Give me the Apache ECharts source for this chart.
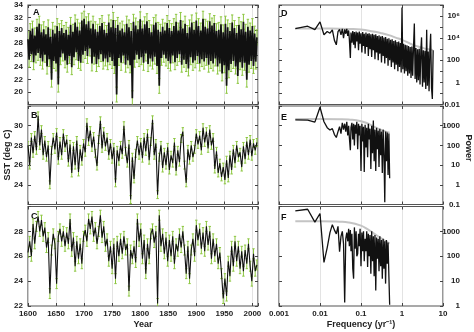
<!DOCTYPE html>
<html><head><meta charset="utf-8">
<script src="https://cdn.jsdelivr.net/npm/echarts/dist/echarts.min.js"></script>
<style>html,body{margin:0;padding:0;background:#fff}#c{width:474px;height:332px}</style>
</head><body><div id="c"></div>
<script>
// ---------- DATA ----------
// Panel A: SST, 2-yr step from 1600
const aStart = 1600, aStep = 2;
const aSST = [
28.5,25.2,29.8,26.1,30.2,24.8,29.1,25.9,30.5,26.3,
31.0,25.5,29.6,24.9,30.1,26.0,29.3,24.1,30.4,25.3,
28.9,22.0,30.0,25.0,29.4,24.6,30.6,21.2,29.8,25.6,
30.3,26.2,29.5,25.1,30.0,24.4,29.2,25.8,30.8,24.0,
29.7,25.6,31.2,26.4,30.5,25.0,29.9,24.7,31.5,26.0,
31.8,26.6,30.9,25.8,31.4,27.0,30.2,24.6,31.0,25.7,
30.1,24.5,29.7,25.3,30.6,26.1,31.1,24.9,30.0,25.4,
29.5,24.8,31.2,25.6,30.4,25.0,31.6,24.2,30.3,19.6,
30.8,25.5,29.9,24.7,30.2,25.9,29.6,24.4,31.0,25.1,
30.4,24.3,29.8,19.0,31.3,25.2,30.7,26.0,30.1,25.3,
31.7,25.6,30.2,24.7,30.9,26.2,31.4,24.5,30.3,25.4,
29.6,24.9,30.8,25.7,31.2,24.2,30.0,21.0,29.7,25.5,
30.5,26.0,29.9,25.4,31.1,25.0,30.3,24.6,29.8,25.9,
30.6,24.8,31.3,25.5,29.9,26.1,31.6,24.4,30.2,25.2,
31.0,24.5,29.5,23.8,30.4,25.6,31.2,24.7,30.0,25.1,
31.5,25.8,30.6,24.6,29.9,25.3,31.8,24.9,30.5,25.5,
30.2,24.4,31.4,25.0,30.7,24.6,31.1,25.4,29.8,24.1,
30.0,24.6,30.9,23.0,29.6,24.3,31.0,21.0,30.4,23.5,
29.8,24.5,31.2,25.0,30.3,24.1,29.5,22.6,30.8,24.8,
30.1,23.9,31.3,24.7,29.7,22.0,30.5,24.4,29.9,25.0,
30.6,24.2,29.4,24.9,28.8];
const aErr = 1.2;

// Panels B and C: SST, 3-yr step from 1600
const bcStart = 1600, bcStep = 3;
const bSST = [
28.0,26.0,28.8,27.2,29.0,27.5,31.0,28.0,29.6,27.0,
28.5,26.8,28.0,24.0,27.5,28.8,27.6,29.3,26.5,28.4,
27.0,29.2,27.8,28.6,26.3,28.1,25.2,27.9,26.0,28.5,
25.3,27.6,26.4,28.2,27.3,30.3,28.4,29.5,27.8,28.9,
27.2,25.9,28.6,30.5,27.7,29.4,27.9,28.8,27.0,28.2,
26.6,27.8,24.2,27.5,26.4,28.0,27.1,30.0,27.4,26.2,
28.1,22.5,26.8,24.6,27.2,28.5,27.0,28.3,26.7,28.8,
27.4,29.2,26.5,28.4,30.6,27.0,28.2,23.0,26.8,28.0,
25.7,27.3,26.0,27.8,25.5,27.0,26.2,28.3,25.4,27.5,
26.3,28.7,29.4,26.0,24.2,27.6,26.5,28.0,26.8,27.6,
29.2,28.1,29.0,27.5,29.8,28.3,29.4,27.7,29.6,28.0,
28.8,25.6,27.4,25.2,26.2,24.8,25.8,24.5,26.5,24.7,
27.0,25.5,27.6,26.2,28.0,26.8,27.3,25.8,27.9,26.6,
28.4,27.0,28.6,26.9,28.2,27.5,28.3];
const bErr = 0.4;
const cSST = [
26.3,27.2,26.0,28.6,27.0,28.4,29.2,28.0,28.9,27.6,
28.3,26.7,27.5,23.0,26.5,27.8,27.0,23.8,27.6,28.2,
27.2,28.0,26.8,27.9,27.0,29.0,26.4,27.5,25.2,27.2,
25.8,27.0,25.4,27.6,28.1,27.2,29.0,28.2,29.2,27.6,
28.3,27.0,28.0,29.3,27.5,28.4,26.8,27.4,25.6,26.8,
25.0,27.0,24.2,27.2,26.0,27.4,26.2,27.6,26.5,27.0,
23.2,26.5,25.8,26.8,25.5,29.0,27.2,28.2,25.8,27.3,
24.6,27.0,25.8,27.8,28.2,27.1,28.0,22.2,29.3,26.8,
27.8,26.2,27.5,25.6,27.3,26.0,27.6,25.4,27.0,26.4,
27.8,26.7,28.0,26.5,24.6,26.8,24.2,26.5,27.4,26.0,
28.5,27.3,28.2,26.6,27.9,26.4,28.4,26.9,28.0,25.8,
27.4,26.0,27.0,25.4,26.3,24.6,22.6,24.2,22.8,25.6,
24.4,26.8,25.2,27.2,25.6,26.8,25.0,26.4,24.8,26.5,
25.4,27.0,25.2,24.0,26.2,24.8,25.3];
const cErr = 0.4;

// Spectra: [frequency (1/yr), log10 power]
const dSpec = [
[0.0025,4.87],[0.005,5.08],[0.0075,4.77],[0.01,5.47],[0.0125,4.31],[0.015,4.6],[0.0175,4.45],[0.02,4.75],
[0.0225,3.8],[0.025,3.4],[0.0275,4.6],[0.03,4.8],[0.0325,4.3],[0.035,4.85],[0.0375,4.0],[0.04,4.8],
[0.0425,4.4],[0.045,4.85],[0.0475,4.2],
[0.050,4.70],[0.052,3.90],[0.055,2.20],[0.057,4.50],[0.060,3.60],[0.063,4.65],[0.066,3.40],[0.069,4.55],
[0.072,3.10],[0.076,4.60],[0.079,3.70],[0.083,4.50],[0.087,2.90],[0.091,4.60],[0.095,3.50],[0.100,4.45],
[0.105,2.70],[0.110,4.55],[0.115,3.30],[0.120,4.40],[0.126,2.60],[0.132,4.50],[0.138,3.20],[0.145,4.40],
[0.151,2.40],[0.158,4.45],[0.166,3.00],[0.174,4.35],[0.182,2.30],[0.191,4.40],[0.200,2.90],[0.209,4.30],
[0.219,2.10],[0.229,4.35],[0.240,2.70],[0.251,4.20],[0.263,2.00],[0.275,4.25],[0.288,2.60],[0.302,4.15],
[0.316,1.80],[0.331,4.20],[0.347,2.40],[0.363,4.05],[0.380,1.70],[0.398,4.10],[0.417,2.20],[0.437,3.95],
[0.457,1.50],[0.479,4.00],[0.501,2.00],[0.525,3.85],[0.550,1.40],[0.575,3.90],[0.603,1.80],[0.631,3.75],
[0.661,1.20],[0.692,3.80],[0.724,1.60],[0.759,3.65],[0.794,1.00],[0.832,3.70],[0.871,1.40],[0.912,3.55],
[0.955,0.90],[1.000,6.77],[1.047,1.20],[1.096,3.50],[1.148,0.80],[1.202,3.40],[1.259,1.00],[1.318,3.35],
[1.380,0.60],[1.445,3.30],[1.514,0.80],[1.585,3.20],[1.660,0.40],[1.738,3.25],[1.820,0.60],[1.905,3.10],
[2.000,5.33],[2.089,0.30],[2.188,3.10],[2.291,0.00],[2.399,3.00],[2.512,0.20],[2.630,3.05],[2.754,-0.20],
[2.884,2.95],[3.000,4.07],[3.162,-0.40],[3.311,2.90],[3.467,0.00],[3.631,2.85],[3.802,-0.60],[4.000,4.77],
[4.169,-0.30],[4.365,2.80],[4.571,-0.80],[4.786,2.85],[5.000,4.40],[5.248,-0.50],[5.495,-1.50],[5.754,2.90]];
const dRed = [[0.0025,4.87],[0.01,4.87],[0.03,4.86],[0.05,4.84],[0.1,4.78],[0.2,4.6],[0.3,4.47],[0.5,4.25],
[0.7,4.05],[1,3.85],[1.5,3.55],[2,3.35],[3,3.15],[4,3.02],[5.7,2.93]];

const eSpec = [
[0.0025,3.30],[0.005,3.28],[0.0075,3.18],[0.01,3.94],[0.0125,3.20],[0.015,2.90],[0.0175,2.78],[0.02,2.85],
[0.0225,2.55],[0.025,2.40],[0.0275,2.70],[0.03,2.95],[0.0325,2.60],[0.035,3.15],[0.0375,2.80],[0.04,3.10],
[0.0425,2.70],[0.045,3.20],[0.0475,2.50],
[0.050,3.00],[0.052,2.40],[0.055,1.76],[0.057,2.90],[0.060,3.15],[0.063,2.30],[0.066,3.10],[0.069,2.00],
[0.072,3.05],[0.076,2.60],[0.079,3.20],[0.083,1.80],[0.087,3.10],[0.091,2.50],[0.095,3.00],[0.100,0.70],
[0.105,3.10],[0.110,2.20],[0.115,2.95],[0.120,0.65],[0.126,3.05],[0.132,1.90],[0.138,2.90],[0.145,1.40],
[0.151,3.10],[0.158,2.30],[0.166,2.85],[0.174,0.80],[0.182,3.00],[0.191,1.60],[0.200,3.26],[0.209,1.20],
[0.219,2.80],[0.229,0.70],[0.240,2.90],[0.251,1.80],[0.263,2.75],[0.275,0.90],[0.288,2.85],[0.302,1.50],
[0.316,2.70],[0.331,0.60],[0.347,2.80],[0.363,1.60],[0.380,-0.88],[0.398,2.70],[0.417,1.20],[0.437,2.65],
[0.457,0.50],[0.479,2.60],[0.500,0.33]];
const eRed = [[0.0025,3.34],[0.01,3.34],[0.03,3.33],[0.05,3.31],[0.1,3.23],[0.15,3.1],[0.2,2.97],[0.3,2.8],[0.4,2.7],[0.5,2.64]];

const fSpec = [
[0.0025,3.82],[0.005,3.89],[0.0075,3.37],[0.01,3.72],[0.0125,1.75],[0.015,2.35],[0.0175,2.95],[0.02,3.27],
[0.0225,3.05],[0.025,2.90],[0.0275,3.20],[0.03,2.18],[0.0325,2.80],[0.035,3.00],[0.0375,2.50],[0.04,0.14],
[0.0425,2.70],[0.045,2.95],[0.0475,2.60],
[0.050,3.10],[0.052,2.40],[0.055,3.05],[0.057,2.20],[0.060,2.90],[0.063,1.50],[0.066,1.10],[0.069,3.16],
[0.072,2.30],[0.076,3.00],[0.079,2.00],[0.083,2.10],[0.087,2.90],[0.091,2.40],[0.095,3.10],[0.100,1.60],
[0.105,2.95],[0.110,2.20],[0.115,3.00],[0.120,1.80],[0.126,2.70],[0.132,2.20],[0.138,3.00],[0.145,1.57],
[0.151,2.90],[0.158,2.00],[0.166,2.85],[0.174,1.30],[0.182,3.00],[0.191,1.80],[0.200,2.80],[0.209,1.20],
[0.219,2.85],[0.229,0.62],[0.240,2.75],[0.251,1.90],[0.263,2.70],[0.275,1.40],[0.288,2.80],[0.302,1.60],
[0.316,2.65],[0.331,1.10],[0.347,2.70],[0.363,1.50],[0.380,2.60],[0.398,0.90],[0.417,2.65],[0.437,1.70],
[0.457,2.55],[0.479,1.20],[0.500,0.05]];
const fRed = [[0.0025,3.41],[0.01,3.41],[0.03,3.39],[0.05,3.36],[0.1,3.23],[0.15,3.07],[0.2,2.93],[0.3,2.74],[0.4,2.6],[0.5,2.52]];

const panelLetters = ['A','B','C','D','E','F'];
const yearTicks = [1600,1650,1700,1750,1800,1850,1900,1950,2000];

// ---------- STYLE / LAYOUT ----------
const FONT = '"Liberation Sans Narrow","Liberation Sans",Arial,sans-serif';
const GREEN = '#8cc63f';
const INK = '#111';
const TICKC = '#444';
const GRIDC = '#dcdcdc';

const grids = [
  {left:28, top:5,     width:230, height:99.5},
  {left:28, top:106,   width:230, height:98.5},
  {left:28, top:206.5, width:230, height:99.5},
  {left:279,top:5,     width:164, height:99.5},
  {left:279,top:106,   width:164, height:98.5},
  {left:279,top:206.5, width:164, height:99.5}
].map(g => Object.assign(g, {show:true, borderColor:'#555', borderWidth:1.2, containLabel:false}));

const labelFont = {fontSize:8, fontWeight:'bold', fontFamily:FONT, color:'#222'};
const tick = {show:true, inside:true, length:3, lineStyle:{color:TICKC, width:1}};

const xAxes = [], yAxes = [];
const leftY = [{min:18,max:34,interval:2,hide:[18]},{min:22,max:32,interval:2,hide:[22,32]},{min:22,max:30,interval:2,hide:[30]}];
const rightY = [{min:0.01,max:1e7,ok:e=>e%2===0&&e<7},{min:0.1,max:1e4,ok:e=>e<4},{min:1,max:1e4,ok:e=>e<4}];
const sup = {4:'\u2074',6:'\u2076'};
const cleanNum = v => String(Number(v.toPrecision(4)));

for (let i=0;i<3;i++){
  const showLab = i===2;
  xAxes.push({gridIndex:i, type:'value', min:1600, max:2010, interval:50, position:'bottom',
    axisLine:{show:false}, axisTick:tick, splitLine:{show:true, lineStyle:{color:GRIDC, width:0.8}},
    axisLabel: showLab ? Object.assign({margin:4, formatter:v => yearTicks.includes(v)?String(v):''}, labelFont) : {show:false}});
  xAxes.push({gridIndex:i, type:'value', min:1600, max:2010, interval:50, position:'top',
    axisLine:{show:false}, axisTick:tick, splitLine:{show:false}, axisLabel:{show:false}});
  const L = leftY[i];
  yAxes.push({gridIndex:i, type:'value', min:L.min, max:L.max, interval:L.interval, position:'left',
    axisLine:{show:false}, axisTick:tick, splitLine:{show:false},
    axisLabel:Object.assign({margin:5, formatter:v => L.hide.includes(v)?'':String(v)}, labelFont)});
  yAxes.push({gridIndex:i, type:'value', min:L.min, max:L.max, interval:L.interval, position:'right',
    axisLine:{show:false}, axisTick:tick, splitLine:{show:false}, axisLabel:{show:false}});
}
for (let i=0;i<3;i++){
  const gi = i+3, showLab = i===2;
  xAxes.push({gridIndex:gi, type:'log', logBase:10, min:0.001, max:10, position:'bottom',
    axisLine:{show:false}, axisTick:tick, splitLine:{show:true, lineStyle:{color:GRIDC, width:0.8}},
    axisLabel: showLab ? Object.assign({margin:4, formatter:v => cleanNum(v)}, labelFont) : {show:false}});
  xAxes.push({gridIndex:gi, type:'log', logBase:10, min:0.001, max:10, position:'top',
    axisLine:{show:false}, axisTick:tick, splitLine:{show:false}, axisLabel:{show:false}});
  const R = rightY[i];
  yAxes.push({gridIndex:gi, type:'log', logBase:10, min:R.min, max:R.max, position:'left',
    axisLine:{show:false}, axisTick:tick, splitLine:{show:false}, axisLabel:{show:false}});
  yAxes.push({gridIndex:gi, type:'log', logBase:10, min:R.min, max:R.max, position:'right',
    axisLine:{show:false}, axisTick:tick, splitLine:{show:false},
    axisLabel:Object.assign({margin:17, align:'right', formatter:v => {
      const e = Math.round(Math.log10(v));
      if (!R.ok(e)) return '';
      return e>=4 ? '10'+sup[e] : cleanNum(v);
    }}, labelFont)});
}

function errBar(err){
  return function(params, api){
    const x = api.value(0), y = api.value(1);
    const hi = api.coord([x, y+err]), lo = api.coord([x, y-err]);
    const w = 1.2, st = {stroke:GREEN, lineWidth:1};
    return {type:'group', children:[
      {type:'line', shape:{x1:hi[0],y1:hi[1],x2:lo[0],y2:lo[1]}, style:st},
      {type:'line', shape:{x1:hi[0]-w,y1:hi[1],x2:hi[0]+w,y2:hi[1]}, style:st},
      {type:'line', shape:{x1:lo[0]-w,y1:lo[1],x2:lo[0]+w,y2:lo[1]}, style:st}
    ]};
  };
}
const series = [];
const tsData = [
  aSST.map((v,i)=>[aStart+i*aStep, v]),
  bSST.map((v,i)=>[bcStart+i*bcStep, v]),
  cSST.map((v,i)=>[bcStart+i*bcStep, v])
];
const errs = [aErr, bErr, cErr];
const tsWidth = [1.7, 1.1, 1.1];
for (let i=0;i<3;i++){
  series.push({type:'custom', xAxisIndex:2*i, yAxisIndex:2*i, data:tsData[i], renderItem:errBar(errs[i]), clip:true, z:1, silent:true});
  series.push({type:'line', xAxisIndex:2*i, yAxisIndex:2*i, data:tsData[i], showSymbol:false, clip:true, z:2,
    lineStyle:{color:INK, width:tsWidth[i]}, silent:true});
}
const specs = [[dSpec,dRed],[eSpec,eRed],[fSpec,fRed]];
for (let i=0;i<3;i++){
  const gi = i+3;
  series.push({type:'line', xAxisIndex:2*gi, yAxisIndex:2*gi, data:specs[i][1].map(p=>[p[0], Math.pow(10,p[1])]),
    showSymbol:false, smooth:true, clip:true, z:1, lineStyle:{color:'#c4c4c4', width:2}, silent:true});
  series.push({type:'line', xAxisIndex:2*gi, yAxisIndex:2*gi, data:specs[i][0].map(p=>[p[0], Math.pow(10,p[1])]),
    showSymbol:false, clip:true, z:2, lineStyle:{color:INK, width:1.3}, silent:true});
}

const letterPos = [[33,8],[31,111],[31,212],[281,9],[281,113],[281,213]];
const graphic = panelLetters.map((t,i)=>({type:'text', x:letterPos[i][0], y:letterPos[i][1],
  style:{text:t, fill:'#111', font:'bold 9px '+FONT, align:'left', verticalAlign:'top'}}));
graphic.push({type:'text', x:143, y:325, style:{text:'Year', fill:'#222', font:'bold 9px '+FONT, align:'center', verticalAlign:'middle'}});
graphic.push({type:'text', x:361, y:325, style:{text:'Frequency (yr\u207B\u00B9)', fill:'#222', font:'bold 9px '+FONT, align:'center', verticalAlign:'middle'}});
graphic.push({type:'text', x:8, y:155, rotation:Math.PI/2, style:{text:'SST (deg C)', fill:'#222', font:'bold 9px '+FONT, align:'center', verticalAlign:'middle'}});
graphic.push({type:'text', x:468, y:148, rotation:-Math.PI/2, style:{text:'Power', fill:'#222', font:'bold 9px '+FONT, align:'center', verticalAlign:'middle'}});

const chart = echarts.init(document.getElementById('c'), null, {renderer:'canvas'});
chart.setOption({animation:false, backgroundColor:'#fff', grid:grids, xAxis:xAxes, yAxis:yAxes, series, graphic});
</script></body></html>
